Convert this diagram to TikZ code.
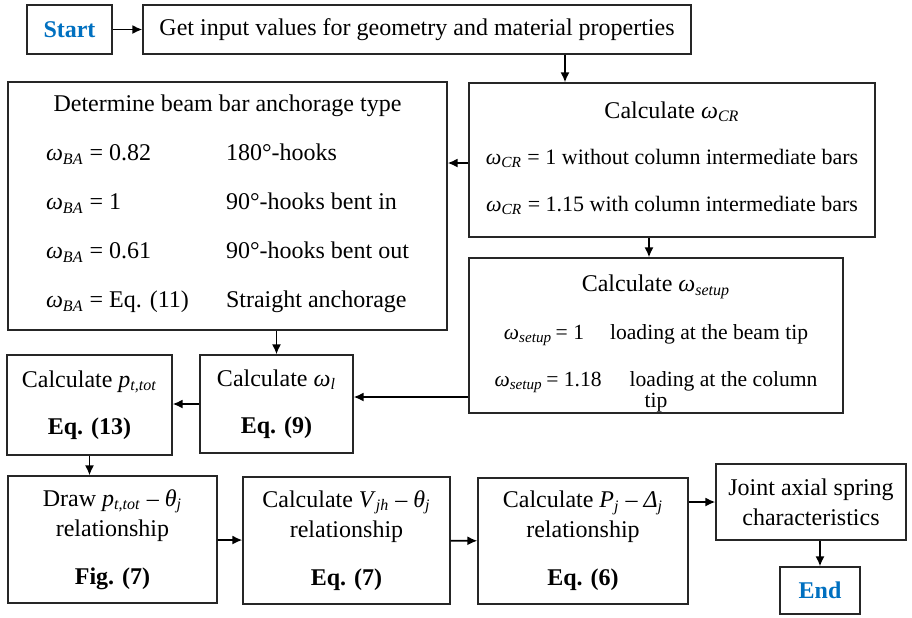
\documentclass[tikz,border=0pt]{standalone}
\usepackage{fontspec}
\setmainfont{Liberation Serif}
\usepackage{xcolor}
\usepackage{tikz}
\usetikzlibrary{arrows.meta,positioning,calc}
\definecolor{termblue}{HTML}{0070C0}
\newcommand{\wsym}[1]{\textit{ω}\textsubscript{\textit{#1}}}
\newcommand{\vsym}[2]{\textit{#1}\textsubscript{\textit{#2}}}
\newcommand{\rowfont}[1]{\fontsize{#1}{15}\selectfont}

\begin{document}
\begin{tikzpicture}[x=0.5pt, y=-0.5pt,
  box/.style={draw=black!85, line width=0.6pt, align=center, inner sep=2pt, font=\fontsize{12}{15}\selectfont},
  term/.style={box, font=\fontsize{12}{15}\selectfont\bfseries, text=termblue},
  flow/.style={-{Latex[length=5pt,width=4.5pt]}, line width=0.9pt}]
\useasboundingbox (0,0) rectangle (912,617);
\node[term, minimum width=42.5pt, minimum height=24.5pt] (start) at (69.5,29.5) {Start};
\node[box, minimum width=274pt, minimum height=24.5pt] (input) at (417,29.5) {Get input values for geometry and material properties};
\node[box, minimum width=219.5pt, minimum height=124pt] (anchor) at (227.5,206) {Determine beam bar anchorage type\\[9.5pt]
  \begin{tabular}[t]{@{}p{90pt}@{}l@{}}
  \wsym{BA} = 0.82 & 180°-hooks\\[9.5pt]
  \wsym{BA} = 1 & 90°-hooks bent in\\[9.5pt]
  \wsym{BA} = 0.61 & 90°-hooks bent out\\[9.5pt]
  \wsym{BA} = Eq. (11) & Straight anchorage
  \end{tabular}};
\node[box, minimum width=203pt, minimum height=77pt] (wcr) at (672,160) {Calculate \wsym{CR}\\[8pt]
  {\rowfont{11}\wsym{CR} = 1 without column intermediate bars}\\[8.5pt]
  {\rowfont{11}\wsym{CR} = 1.15 with column intermediate bars\rule[-3.5pt]{0pt}{1pt}}};
\node[box, inner sep=0pt, minimum width=187pt, minimum height=77.5pt] (wsetup) at (656,335.5) {\rule{0pt}{16.5pt}Calculate \wsym{setup}\\[9pt]
  {\rowfont{10.8}\wsym{setup}\,= 1\hspace{13pt}loading at the beam tip}\\[8.5pt]
  {\rowfont{10.8}\wsym{setup}\,= 1.18\hspace{14pt}loading at the column}\\[-4.5pt]
  {\rowfont{10.8}tip}};
\node[box, minimum width=76.5pt, minimum height=49pt] (wl) at (276.5,404) {Calculate \wsym{l}\\[8.5pt] \textbf{Eq. (9)}};
\node[box, minimum width=82.5pt, minimum height=50pt] (ptot) at (89.5,405) {Calculate \vsym{p}{t,tot}\\[8.5pt] \textbf{Eq. (13)}};
\node[box, minimum width=104.5pt, minimum height=63.5pt] (drawrel) at (112.5,539.5) {Draw \vsym{p}{t,tot} – \vsym{θ}{j}\\ relationship\\[9pt] \textbf{Fig. (7)}};
\node[box, minimum width=103.5pt, minimum height=63.5pt] (vjh) at (346.5,540.5) {Calculate \vsym{V}{jh} – \vsym{θ}{j}\\ relationship\\[9pt] \textbf{Eq. (7)}};
\node[box, minimum width=105pt, minimum height=63pt] (pj) at (583,541) {Calculate \vsym{P}{j} – \vsym{Δ}{j}\\ relationship\\[9pt] \textbf{Eq. (6)}};
\node[box, minimum width=95pt, minimum height=38pt] (joint) at (811,502) {Joint axial spring\\ characteristics};
\node[term, minimum width=40pt, minimum height=23.5pt] (end) at (820,590.5) {End};
\draw[flow] (start) -- (input);
\draw[flow] ([xshift=74pt]input.south) -- ([xshift=74pt]input.south |- wcr.north);
\draw[flow] ([yshift=-1.5pt]wcr.west) -- ([yshift=-1.5pt]wcr.west -| anchor.east);
\draw[flow] ([xshift=-11.5pt]wcr.south) -- ([xshift=-11.5pt]wcr.south |- wsetup.north);
\draw[flow] (wl.north |- anchor.south) -- (wl.north);
\draw[flow] ([yshift=3.5pt]wl.east -| wsetup.west) -- ([yshift=3.5pt]wl.east);
\draw[flow] (wl.west) -- (wl.west -| ptot.east);
\draw[flow] (ptot.south) -- (ptot.south |- drawrel.north);
\draw[flow] (drawrel) -- (vjh);
\draw[flow] (vjh) -- (pj);
\draw[flow] (joint.west -| pj.east) -- (joint.west);
\draw[flow] (joint.south -| end.north) -- (end.north);
\end{tikzpicture}
\end{document}
